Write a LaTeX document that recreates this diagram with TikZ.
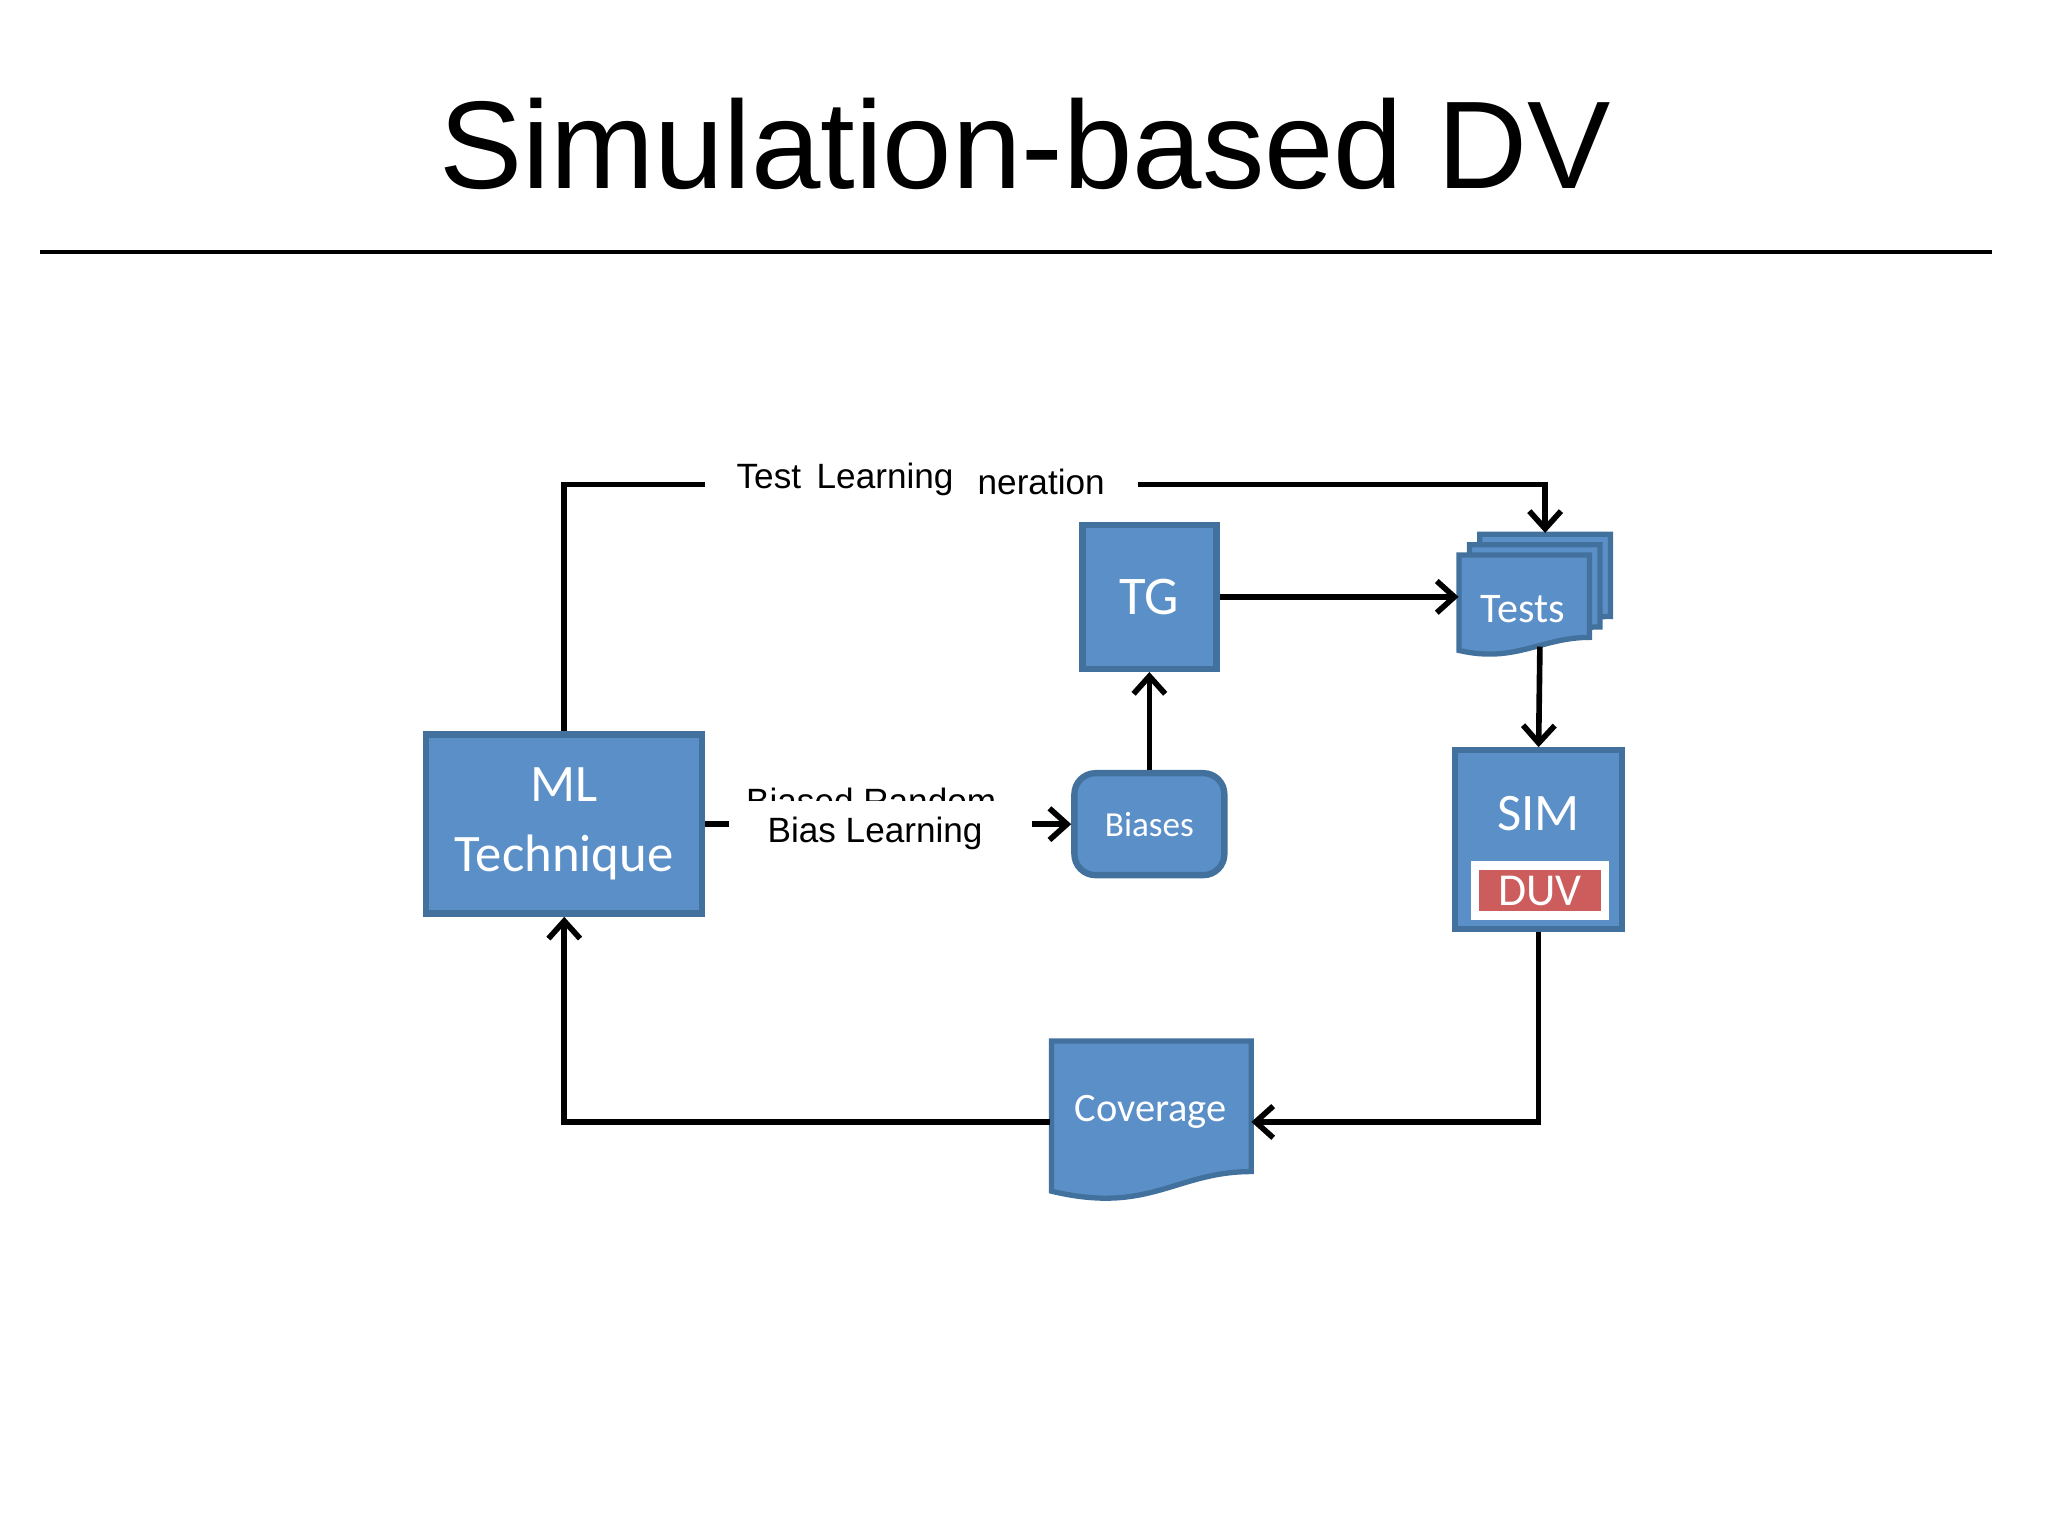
\documentclass[tikz,border=0pt]{standalone}
\usepackage{fontspec}
\setmainfont{Liberation Sans}
\newfontfamily\carlitofont{Carlito}
\usetikzlibrary{arrows.meta}
\definecolor{bfill}{HTML}{5B8FC8}
\definecolor{bedge}{HTML}{41719C}
\definecolor{duv}{HTML}{CD5C5C}
\begin{document}
\begin{tikzpicture}[x=0.01306cm,y=-0.01306cm,
  box/.style={fill=bfill,draw=bedge,line width=1.8pt,inner sep=0pt,font=\carlitofont\fontsize{15}{18}\selectfont,text=white,align=center},
  conn/.style={line width=1.6pt,-{Straight Barb[length=5pt,width=9pt,line width=1.6pt]}},
  line/.style={line width=1.6pt},
  lab/.style={font=\fontsize{10}{12}\selectfont,inner sep=0pt}]
\useasboundingbox (0,0) rectangle (1568,1176);
\node[font=\fontsize{35.5}{40}\selectfont] (title) at (785,110) {Simulation-based DV};
\draw[line width=1.2pt] (31,193) coordinate (l1) -- (1525,193) coordinate (l2);
% nodes
\node[box,minimum width=2.76cm,minimum height=1.79cm] (ml) at (432,631) {ML\\[2pt]Technique};
\node[box,minimum width=1.34cm,minimum height=1.44cm,font=\carlitofont\fontsize{15.5}{18}\selectfont] (tg) at (880,457) {TG};
\node[box,rounded corners=6pt,minimum width=1.5cm,minimum height=1.02cm,font=\carlitofont\fontsize{10}{12}\selectfont] (bias) at (880,631) {Biases};
\node[box,minimum width=1.67cm,minimum height=1.79cm] (sim) at (1178,643) {};
\node[font=\carlitofont\fontsize{15}{18}\selectfont,text=white] (simt) at (1178,623) {SIM};
\node[fill=duv,draw=white,line width=2.5pt,minimum width=1.3cm,minimum height=0.5cm,inner sep=0pt,text=white,font=\carlitofont\fontsize{13}{15}\selectfont] (duv) at (1179,682) {DUV};
% Tests stack
\foreach \d in {16,8}{
 \fill[bfill,draw=bedge,line width=1.5pt] (1117+\d,425-\d) -- (1217+\d,425-\d) -- (1217+\d,488-\d) .. controls (1180+\d,488-\d) and (1160+\d,508-\d) .. (1117+\d,498-\d) -- cycle;}
\fill[bfill,draw=bedge,line width=1.5pt] (1117,425) -- (1217,425) -- (1217,488) .. controls (1180,488) and (1160,508) .. (1117,498) -- cycle;
\node[inner sep=0pt,minimum width=1.3cm,minimum height=0.9cm] (tests) at (1167,458) {};
\node[text=white,font=\carlitofont\fontsize{12}{14}\selectfont] (testst) at (1166,466) {Tests};
% Coverage
\fill[bfill,draw=bedge,line width=1.5pt] (805,797) -- (958,797) -- (958,897) .. controls (900,897) and (880,930) .. (805,912) -- cycle;
\node[inner sep=0pt,minimum width=2cm,minimum height=1.4cm] (cov) at (881,859) {};
\node[text=white,font=\carlitofont\fontsize{11.5}{14}\selectfont] (covt) at (881,851) {Coverage};
% connectors
\coordinate (a1) at (540,371); \coordinate (a2) at (871,371);
\draw[line] (ml.north) |- (a1);
\draw[conn] (a2) -| (1183,408);
\node[lab] (t1) at (647,367) {Test\,\ Learning};
\node[lab,anchor=west] (t2) at (748,369) {neration};
\draw[conn] (tg.east) -- (tests.west |- tg.east);
\draw[conn] (bias.north) -- (tg.south);
\coordinate (b1) at (558,631); \coordinate (b2) at (790,631);
\draw[line] (ml.east) -- (b1);
\draw[conn] (b2) -- (bias.west);
\begin{scope}
\clip (560,596) rectangle (780,613);
\node[lab] (br) at (667,613) {Biased Random};
\end{scope}
\node[lab] (bl) at (670,638) {Bias Learning};
\draw[conn] (1179,495) -- (sim.north);
\draw[conn] (sim.south) |- (cov.east);
\draw[conn] (cov.west) -| (ml.south);
\end{tikzpicture}
\end{document}
